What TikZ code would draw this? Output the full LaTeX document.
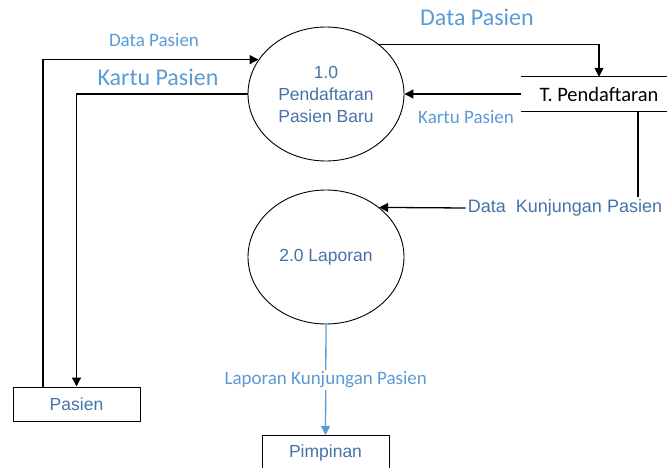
\documentclass[tikz,border=0pt]{standalone}
\usepackage{fontspec}
\setmainfont{Liberation Sans}
\newfontfamily\lblfont{Carlito}
\usetikzlibrary{shapes.geometric,arrows.meta}
\definecolor{lblblue}{HTML}{5B9BD5}
\definecolor{txtblue}{HTML}{4672A8}
\tikzset{
  proc/.style={draw,ellipse,line width=0.9pt,minimum width=156pt,minimum height=134pt,
    text=txtblue,align=center,font=\fontsize{17.5}{22}\selectfont},
  entity/.style={draw,line width=1pt,minimum width=127pt,minimum height=34pt,
    text=txtblue,font=\fontsize{17.5}{21}\selectfont},
  store/.style={minimum width=156pt,minimum height=34pt,font=\lblfont\fontsize{20.5}{24}\selectfont},
  flow/.style={line width=1.3pt,-{Triangle[length=9pt,width=9pt]}},
  smalllbl/.style={text=lblblue,font=\lblfont\fontsize{19}{22}\selectfont,inner sep=0pt},
  biglbl/.style={text=lblblue,font=\lblfont\fontsize{24}{28}\selectfont,inner sep=0pt},
  kunjlbl/.style={text=txtblue,font=\fontsize{18}{21}\selectfont,inner sep=2pt},
}
\begin{document}
\begin{tikzpicture}[x=1pt,y=-1pt]
  \useasboundingbox (0,0) rectangle (667,468);
  % processes and entities
  \node[proc] (p1) at (326,94) {1.0\\Pendaftaran\\Pasien Baru};
  \node[proc] (p2) at (326,257) {2.0 Laporan};
  \node[entity] (pasien) at (76.5,404) {Pasien};
  \node[entity] (pimpinan) at (325.5,452.5) {Pimpinan};
  % data store
  \node[store] (tpend) at (599,94) {T. Pendaftaran};
  \coordinate (edge) at (667,0);
  \draw[line width=1.1pt] (tpend.north west) -- (tpend.north west -| edge)
    (tpend.south west) -- (tpend.south west -| edge);
  % labels
  \node[smalllbl] (lDataA) at (154,40) {Data Pasien};
  \node[biglbl] (lKartuA) at (158,77) {Kartu Pasien};
  \node[biglbl] (lDataB) at (477,17) {Data Pasien};
  \node[smalllbl] (lKartuB) at (466,117) {Kartu Pasien};
  \node[kunjlbl] (lKunj) at (565,208) {Data\ \ Kunjungan Pasien};
  % flows
  \draw[flow] ([xshift=-33.5pt]pasien.north) |- (p1.153);
  \draw[flow] (p1.west) -| (pasien.north);
  \draw[flow] (p1.43) -| (tpend.north);
  \draw[flow] (tpend.west) -- (p1.east);
  \coordinate (kTop) at ([xshift=39pt]tpend.south);
  \draw[line width=1.3pt] (kTop) -- (kTop |- lKunj.north);
  \draw[flow] (lKunj.west) -- (p2.43);
  \draw[flow,color=lblblue] (p2.south) -- node[smalllbl,fill=white,inner sep=2pt] (lLap)
    {Laporan Kunjungan Pasien} (pimpinan.north);
\end{tikzpicture}
\end{document}
